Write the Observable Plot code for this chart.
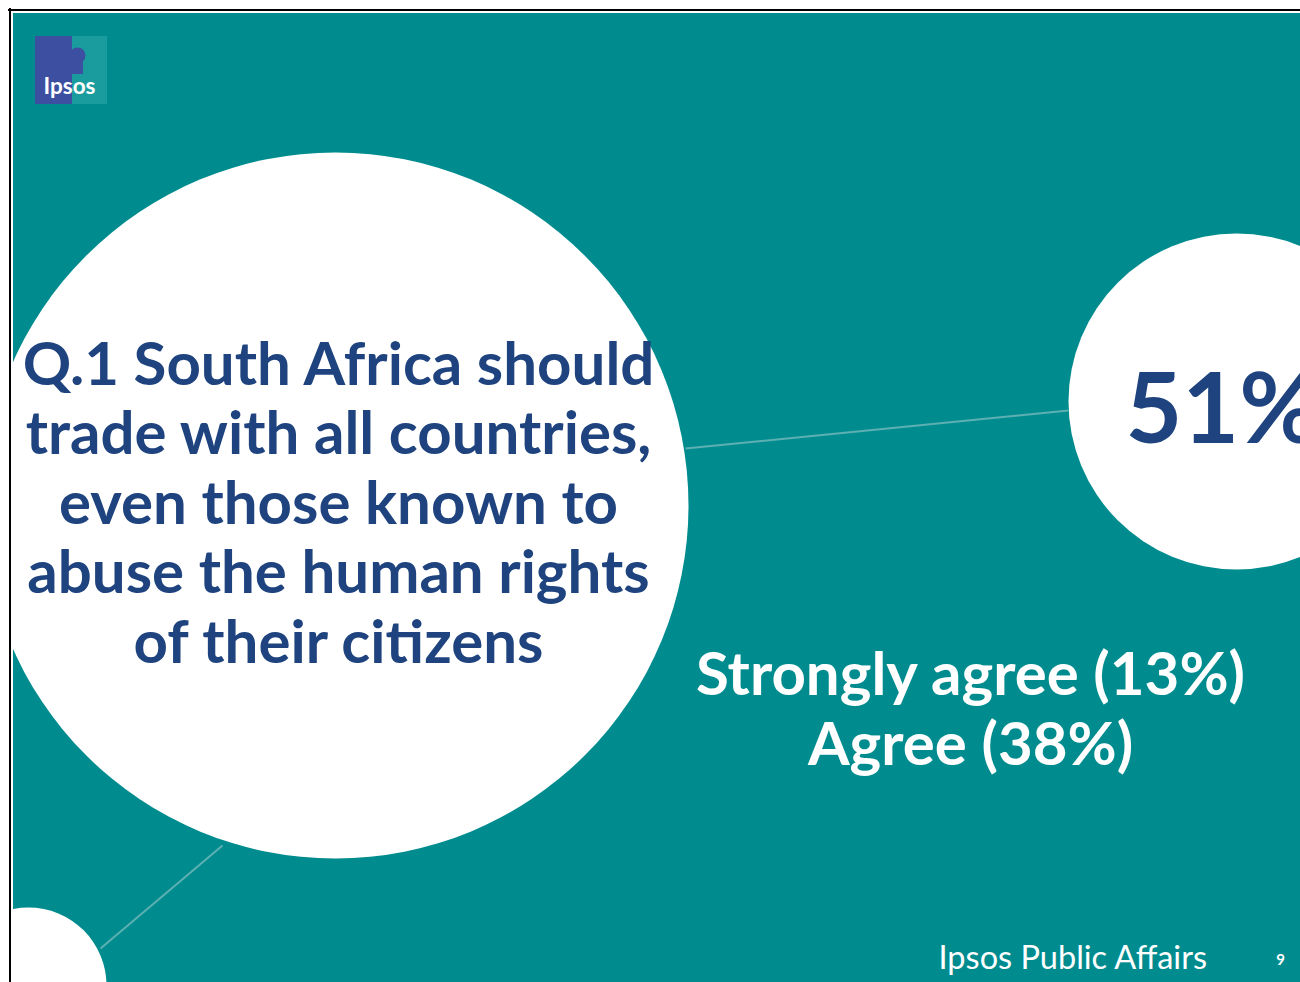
<!DOCTYPE html>
<html><head><meta charset="utf-8">
<script src="https://cdn.jsdelivr.net/npm/d3@7"></script>
<script src="https://cdn.jsdelivr.net/npm/@observablehq/plot@0.6"></script>
<style>html,body{margin:0;padding:0;background:#fff;overflow:hidden}</style>
</head><body><div id="chart"></div>
<script>
// ---- data ----
const questionLines = ["Q.1 South Africa should", "trade with all countries,", "even those known to", "abuse the human rights", "of their citizens"];
const totalAgree = 51;
const responseLabels = ["Strongly agree", "Agree"];
const responseValues = [13, 38];
const footerText = "Ipsos Public Affairs";
const pageNumber = 9;
const logoText = "Ipsos";

// ---- layout (pixels) ----
const W = 1300, H = 982;
const teal = "#008C8F", navy = "#1E437E", lineCol = "#5DB0B2";
const bubbles = [
  {cx: 335, cy: 505, r: 353},   // question bubble
  {cx: 1236, cy: 401, r: 168},  // result bubble
  {cx: 28, cy: 985, r: 78}      // corner bubble
];
const links = [
  {x1: 685, y1: 448, x2: 1068, y2: 410},
  {x1: 100, y1: 948, x2: 222, y2: 845}
];
const respRows = responseLabels.map((l, i) => ({label: `${l} (${responseValues[i]}%)`, i}));
const font = "Lato, 'Open Sans', sans-serif";

const chart = Plot.plot({
  width: W, height: H, margin: 0,
  x: {domain: [0, W], range: [0, W], axis: null},
  y: {domain: [0, H], range: [0, H], axis: null},
  r: {type: "identity"},
  style: {background: "#fff", fontFamily: font},
  marks: [
    Plot.rect([0], {x1: () => 13, x2: () => W, y1: () => 13, y2: () => H, fill: teal}),
    Plot.link(links, {x1: "x1", y1: "y1", x2: "x2", y2: "y2", stroke: lineCol, strokeWidth: 2}),
    Plot.dot(bubbles, {x: "cx", y: "cy", r: "r", fill: "#fff", stroke: null}),
    // logo
    Plot.rect([0], {x1: () => 72, x2: () => 107, y1: () => 36, y2: () => 104, fill: "#1A9C9E"}),
    Plot.rect([0], {x1: () => 35, x2: () => 72, y1: () => 36, y2: () => 104, fill: "#3D4FA1"}),
    Plot.dot([0], {x: () => 77, y: () => 55, r: () => 8, fill: "#3D4FA1"}),
    Plot.rect([0], {x1: () => 72, x2: () => 83, y1: () => 55, y2: () => 74, fill: "#3D4FA1"}),
    Plot.text([logoText], {x: () => 43, y: () => 86, text: d => d, textAnchor: "start", fontSize: 22.5, fontWeight: 700, fill: "#fff"}),
    // question
    Plot.text(questionLines, {x: () => 338, y: (d, i) => 365 + i * 69.5, text: d => d, fontSize: 60, fontWeight: 700, fill: navy}),
    // total
    Plot.text([totalAgree], {x: () => 1125, y: () => 411, text: d => `${d}%`, textAnchor: "start", fontSize: 98, fontWeight: 700, fill: navy}),
    // breakdown
    Plot.text(respRows, {x: () => 970, y: d => 675 + d.i * 70, text: "label", fontSize: 60, fontWeight: 700, fill: "#fff"}),
    // footer
    Plot.text([footerText], {x: () => 938, y: () => 958, text: d => d, textAnchor: "start", fontSize: 32.5, fill: "#fff"}),
    Plot.text([pageNumber], {x: () => 1280, y: () => 960, text: d => String(d), fontSize: 15, fontWeight: 700, fill: "#fff"}),
    // frame border
    Plot.ruleX([0], {x: () => 9.5, y1: () => 8, y2: () => H, stroke: "#000", strokeWidth: 2}),
    Plot.ruleY([0], {y: () => 9.5, x1: () => 8, x2: () => W, stroke: "#000", strokeWidth: 2})
  ]
});
document.getElementById("chart").appendChild(chart);
</script>
</body></html>
